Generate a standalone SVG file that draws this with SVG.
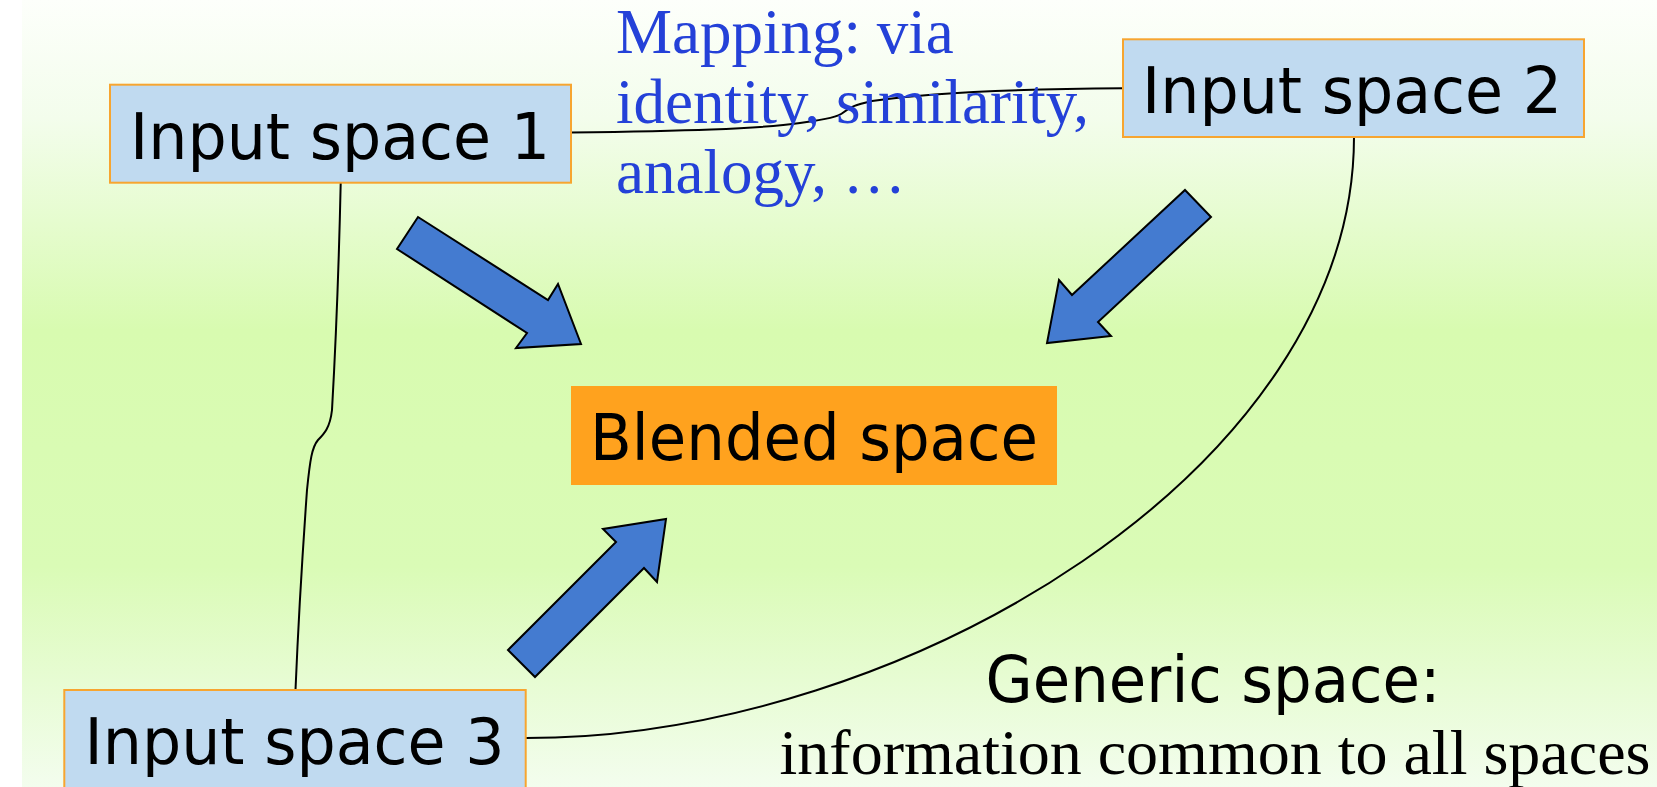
<svg xmlns="http://www.w3.org/2000/svg" width="1657" height="787" viewBox="0 0 1657 787">
<defs>
<linearGradient id="bg" x1="0" y1="0" x2="0" y2="1">
<stop offset="0" stop-color="#fdfffb"/>
<stop offset="0.15" stop-color="#f3fdec"/>
<stop offset="0.42" stop-color="#d8fbb0"/>
<stop offset="0.72" stop-color="#dafbb6"/>
<stop offset="1" stop-color="#f3fdee"/>
</linearGradient>
<style>
.box{fill:#c0daf0;stroke:#f7a530;stroke-width:2}
.lbl{font-family:"DejaVu Sans",sans-serif;font-size:64px;fill:#000;text-anchor:middle}
.map{font-family:"Liberation Serif",serif;font-size:63px;fill:#2441d8}
.ser{font-family:"Liberation Serif",serif;font-size:64px;fill:#000;text-anchor:middle}
.arr{fill:#447bd0;stroke:#000;stroke-width:2;stroke-linejoin:miter}
.con{fill:none;stroke:#000;stroke-width:2}
</style>
</defs>
<rect x="0" y="0" width="1657" height="787" fill="#ffffff"/>
<rect x="22" y="0" width="1635" height="787" fill="url(#bg)"/>

<g id="connectors">
<path class="con" d="M571,132.5 C680,131 760,129 800,123 C828,119 838,117 844,112 C850,107 855,105 872,101 C925,93 1000,89 1123,88.3"/>
<path class="con" d="M340.7,183 C339,260 336,340 332,410 C330,428 324,434 318,440 C312,447 310,460 307,490 C302,560 298,630 295.5,690"/>
<path class="con" d="M1354,137 C1354,467 906,738 526,738"/>
<polygon class="arr" points="418,217 548,300 558,284 581,344 516,348 527,333 397,249"/>
<polygon class="arr" points="1185,190 1211,217 1098,322 1111,336 1047,343 1059,280 1072,295"/>
<polygon class="arr" points="508,650 535,677 644,568 657,582 666,519 603,529 616,542"/>
</g>

<g id="input1">
<rect class="box" x="110" y="84.7" width="461" height="98"/>
<text class="lbl" x="340" y="159.3" textLength="420" lengthAdjust="spacingAndGlyphs">Input space 1</text>
</g>

<g id="input2">
<rect class="box" x="1123" y="39.3" width="461" height="97.7"/>
<text class="lbl" x="1352" y="113.3" textLength="420" lengthAdjust="spacingAndGlyphs">Input space 2</text>
</g>

<g id="input3">
<rect class="box" x="64.3" y="690" width="461.4" height="110"/>
<text class="lbl" x="294.5" y="764" textLength="420" lengthAdjust="spacingAndGlyphs">Input space 3</text>
</g>

<g id="blended">
<rect x="571" y="386" width="486" height="99" fill="#ffa21e"/>
<text class="lbl" x="814" y="460" textLength="448" lengthAdjust="spacingAndGlyphs">Blended space</text>
</g>

<g id="mapping">
<text class="map" x="616" y="53.3">Mapping: via</text>
<text class="map" x="616" y="123">identity, similarity,</text>
<text class="map" x="616" y="192.7">analogy, …</text>
</g>

<g id="generic">
<text class="lbl" x="1213" y="701.7" textLength="455" lengthAdjust="spacingAndGlyphs">Generic space:</text>
<text class="ser" x="1215" y="774">information common to all spaces</text>
</g>
</svg>
